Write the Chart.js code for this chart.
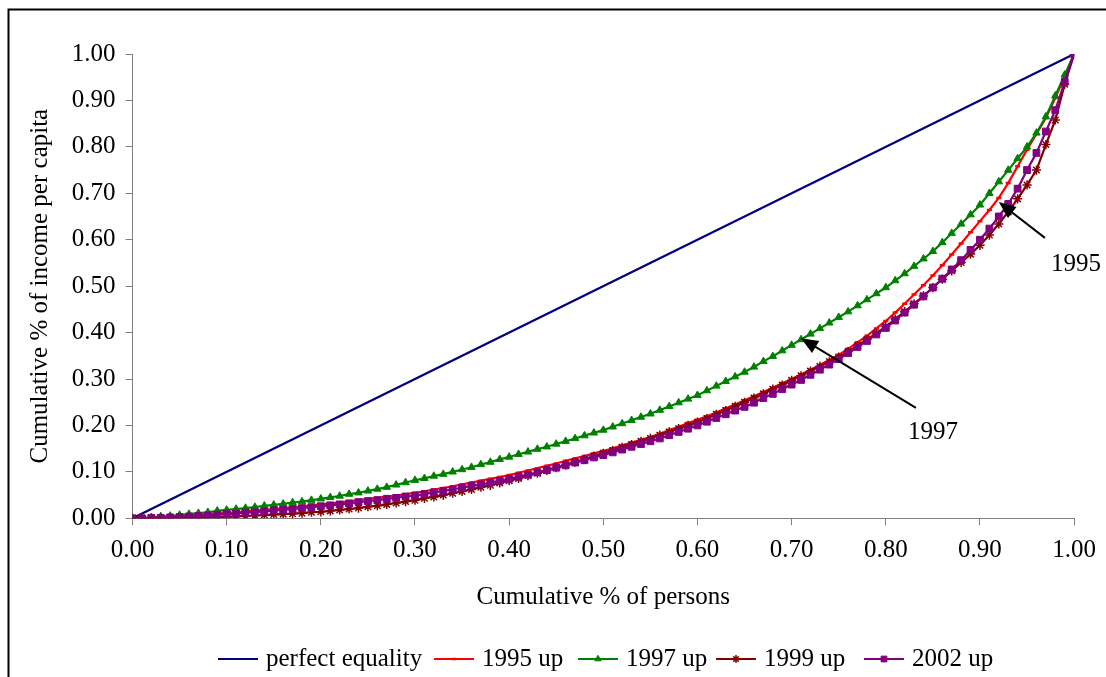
<!DOCTYPE html>
<html><head><meta charset="utf-8">
<script src="https://cdn.jsdelivr.net/npm/chart.js@4.4.1/dist/chart.umd.min.js"></script>
<style>html,body{margin:0;padding:0;background:#fff}canvas{display:block}</style>
</head><body>
<canvas id="c" width="1106" height="677"></canvas>
<script>
// Cumulative share of persons (x)
const persons = [0.00,0.01,0.02,0.03,0.04,0.05,0.06,0.07,0.08,0.09,
0.10,0.11,0.12,0.13,0.14,0.15,0.16,0.17,0.18,0.19,
0.20,0.21,0.22,0.23,0.24,0.25,0.26,0.27,0.28,0.29,
0.30,0.31,0.32,0.33,0.34,0.35,0.36,0.37,0.38,0.39,
0.40,0.41,0.42,0.43,0.44,0.45,0.46,0.47,0.48,0.49,
0.50,0.51,0.52,0.53,0.54,0.55,0.56,0.57,0.58,0.59,
0.60,0.61,0.62,0.63,0.64,0.65,0.66,0.67,0.68,0.69,
0.70,0.71,0.72,0.73,0.74,0.75,0.76,0.77,0.78,0.79,
0.80,0.81,0.82,0.83,0.84,0.85,0.86,0.87,0.88,0.89,
0.90,0.91,0.92,0.93,0.94,0.95,0.96,0.97,0.98,0.99,1.00];

const equalityX = [0.00, 1.00];
const equalityY = [0.00, 1.00];

const up1995 = [0,0.000,0.001,0.002,0.003,0.004,0.005,0.007,0.008,0.010,
0.012,0.013,0.015,0.017,0.018,0.020,0.022,0.024,0.026,0.028,
0.030,0.032,0.034,0.037,0.039,0.042,0.044,0.047,0.049,0.052,
0.055,0.058,0.062,0.065,0.069,0.073,0.077,0.081,0.085,0.089,
0.093,0.098,0.103,0.108,0.113,0.118,0.124,0.129,0.134,0.140,
0.145,0.151,0.157,0.163,0.169,0.175,0.182,0.190,0.197,0.205,
0.212,0.220,0.228,0.237,0.245,0.254,0.263,0.272,0.281,0.291,
0.300,0.310,0.320,0.330,0.341,0.352,0.365,0.379,0.393,0.409,
0.425,0.443,0.462,0.482,0.502,0.523,0.545,0.568,0.592,0.616,
0.640,0.664,0.690,0.722,0.758,0.794,0.828,0.862,0.905,0.952,1.000];

const up1997 = [0,0.001,0.002,0.004,0.005,0.007,0.009,0.011,0.013,0.016,
0.018,0.020,0.022,0.024,0.027,0.029,0.031,0.034,0.036,0.039,
0.042,0.045,0.048,0.052,0.055,0.059,0.063,0.067,0.072,0.077,
0.082,0.086,0.091,0.095,0.100,0.105,0.110,0.116,0.121,0.127,
0.132,0.138,0.143,0.149,0.154,0.160,0.166,0.172,0.178,0.184,
0.190,0.197,0.204,0.211,0.218,0.225,0.233,0.241,0.249,0.257,
0.265,0.275,0.285,0.295,0.305,0.315,0.326,0.338,0.349,0.361,
0.373,0.385,0.397,0.409,0.421,0.433,0.445,0.458,0.471,0.484,
0.497,0.512,0.527,0.543,0.559,0.575,0.594,0.614,0.634,0.654,
0.675,0.700,0.725,0.750,0.775,0.800,0.830,0.865,0.910,0.955,1.000];

const up1999 = [0,0.000,0.000,0.000,0.000,0.000,0.001,0.001,0.002,0.002,
0.003,0.004,0.005,0.006,0.007,0.008,0.009,0.010,0.011,0.013,
0.014,0.016,0.018,0.020,0.022,0.025,0.027,0.030,0.033,0.036,
0.039,0.043,0.046,0.050,0.054,0.058,0.062,0.067,0.071,0.076,
0.081,0.086,0.092,0.097,0.103,0.109,0.115,0.121,0.127,0.134,
0.140,0.146,0.153,0.159,0.166,0.172,0.179,0.186,0.193,0.200,
0.207,0.215,0.224,0.232,0.241,0.250,0.259,0.268,0.278,0.287,
0.297,0.307,0.317,0.327,0.337,0.347,0.359,0.372,0.385,0.399,
0.413,0.429,0.445,0.462,0.479,0.497,0.515,0.533,0.551,0.569,
0.588,0.610,0.634,0.660,0.688,0.718,0.750,0.805,0.858,0.935,1.000];

const up2002 = [0,0.000,0.001,0.001,0.002,0.003,0.004,0.005,0.006,0.008,
0.009,0.010,0.012,0.013,0.015,0.017,0.018,0.020,0.022,0.024,
0.026,0.028,0.030,0.032,0.035,0.037,0.039,0.042,0.044,0.047,
0.049,0.052,0.056,0.059,0.062,0.066,0.070,0.073,0.077,0.081,
0.085,0.090,0.094,0.099,0.104,0.109,0.114,0.120,0.125,0.131,
0.136,0.142,0.148,0.154,0.160,0.166,0.172,0.179,0.186,0.193,
0.200,0.208,0.216,0.224,0.232,0.240,0.249,0.259,0.268,0.278,
0.288,0.298,0.309,0.320,0.331,0.343,0.356,0.369,0.382,0.396,
0.410,0.426,0.443,0.460,0.478,0.497,0.516,0.536,0.556,0.578,
0.600,0.624,0.650,0.677,0.710,0.750,0.787,0.833,0.879,0.940,1.000];

const seriesNames = ['perfect equality','1995 up','1997 up','1999 up','2002 up'];
const tickLabelsFmt = 2;

const FONT = 'Liberation Serif, Times New Roman, serif';
const FS = 25;
const xy = (xs, ys) => ys.map((y, i) => ({x: xs[i], y: y}));

const datasets = [
  {label: seriesNames[0], data: xy(equalityX, equalityY), borderColor:'#000080', backgroundColor:'#000080',
   borderWidth:2.2, pointRadius:0, order:5},
  {label: seriesNames[1], data: xy(persons, up1995), borderColor:'#FF0000', backgroundColor:'#FF0000',
   borderWidth:2.2, pointStyle:'line', pointRadius:2.5, pointBorderWidth:2.5, order:4},
  {label: seriesNames[2], data: xy(persons, up1997), borderColor:'#008000', backgroundColor:'#008000',
   borderWidth:2.2, pointStyle:'triangle', pointRadius:4.3, pointBorderWidth:1, order:3},
  {label: seriesNames[3], data: xy(persons, up1999), borderColor:'#800000', backgroundColor:'#800000',
   borderWidth:2.2, pointStyle:'star', pointRadius:4.6, pointBorderWidth:1.5, order:2},
  {label: seriesNames[4], data: xy(persons, up2002), borderColor:'#800080', backgroundColor:'#800080',
   borderWidth:2.2, pointStyle:'rect', pointRadius:4.8, pointBorderWidth:1, order:1}
];

// annotations in data coordinates
const arrows = [
  {from:{x:0.969, y:0.604}, to:{x:0.920, y:0.681}, text:'1995', at:{x:1.002, y:0.546}},
  {from:{x:0.832, y:0.238}, to:{x:0.710, y:0.388}, text:'1997', at:{x:0.850, y:0.184}}
];

const decor = {
  id:'decor',
  beforeDraw(chart){
    const ctx = chart.ctx;
    ctx.save();
    ctx.fillStyle = '#fff';
    ctx.fillRect(0,0,chart.width,chart.height);
    ctx.restore();
  },
  afterDraw(chart){
    const ctx = chart.ctx, xs = chart.scales.x, ys = chart.scales.y;
    ctx.save();
    // outer frame
    ctx.strokeStyle = '#000'; ctx.lineWidth = 2;
    ctx.beginPath(); ctx.moveTo(8.5, chart.height+2); ctx.lineTo(8.5, 9.5); ctx.lineTo(chart.width+2, 9.5); ctx.stroke();
    // arrows
    arrows.forEach(a => {
      const x1 = xs.getPixelForValue(a.from.x), y1 = ys.getPixelForValue(a.from.y);
      const x2 = xs.getPixelForValue(a.to.x), y2 = ys.getPixelForValue(a.to.y);
      const ang = Math.atan2(y2 - y1, x2 - x1), L = 17, W = 7;
      const bx = x2 - Math.cos(ang)*L, by = y2 - Math.sin(ang)*L;
      ctx.strokeStyle = '#000'; ctx.fillStyle = '#000'; ctx.lineWidth = 2;
      ctx.beginPath(); ctx.moveTo(x1, y1); ctx.lineTo(bx + Math.cos(ang)*3, by + Math.sin(ang)*3); ctx.stroke();
      ctx.beginPath(); ctx.moveTo(x2, y2);
      ctx.lineTo(bx + Math.sin(ang)*W, by - Math.cos(ang)*W);
      ctx.lineTo(bx - Math.sin(ang)*W, by + Math.cos(ang)*W);
      ctx.closePath(); ctx.fill();
      ctx.font = FS + 'px ' + FONT; ctx.textAlign = 'center'; ctx.textBaseline = 'middle';
      ctx.fillText(a.text, xs.getPixelForValue(a.at.x), ys.getPixelForValue(a.at.y));
    });
    // legend
    const legendX = [218, 434, 578, 716, 864], ly = 659;
    chart.data.datasets.forEach((ds, i) => {
      const x0 = legendX[i];
      ctx.strokeStyle = ds.borderColor; ctx.lineWidth = 2;
      ctx.beginPath(); ctx.moveTo(x0, ly); ctx.lineTo(x0 + 40, ly); ctx.stroke();
      if (ds.pointRadius > 0) {
        ctx.fillStyle = ds.backgroundColor; ctx.strokeStyle = ds.borderColor;
        ctx.lineWidth = ds.pointBorderWidth;
        Chart.helpers.drawPoint(ctx, {pointStyle: ds.pointStyle, radius: ds.pointRadius * 0.85, rotation: 0, borderWidth: ds.pointBorderWidth}, x0 + 20, ly);
      }
      ctx.fillStyle = '#000'; ctx.font = FS + 'px ' + FONT; ctx.textAlign = 'left'; ctx.textBaseline = 'middle';
      ctx.fillText(ds.label, x0 + 48, ly);
    });
    ctx.restore();
  }
};

new Chart(document.getElementById('c'), {
  type: 'line',
  data: {datasets: datasets},
  options: {
    responsive: false, animation: false, devicePixelRatio: 1,
    layout: {padding: {left: 25.6, top: 54, right: 29.5, bottom: 64.6}},
    plugins: {legend: {display: false}, tooltip: {enabled: false}},
    elements: {line: {tension: 0}},
    scales: {
      x: {type: 'linear', min: 0, max: 1,
        ticks: {stepSize: 0.1, autoSkip: false, maxRotation: 0, padding: 10, color: '#000',
          font: {family: FONT, size: FS}, callback: v => Number(v).toFixed(tickLabelsFmt)},
        grid: {display: true, drawOnChartArea: false, drawTicks: true, tickLength: 7, tickColor: '#808080', lineWidth: 1},
        border: {display: true, color: '#808080', width: 1},
        title: {display: true, text: 'Cumulative % of persons', color: '#000', font: {family: FONT, size: FS}, padding: 0},
        afterFit(s) { s.height = 94.1; }
      },
      y: {type: 'linear', min: 0, max: 1,
        ticks: {stepSize: 0.1, autoSkip: false, padding: 10, color: '#000',
          font: {family: FONT, size: FS}, callback: v => Number(v).toFixed(tickLabelsFmt)},
        grid: {display: true, drawOnChartArea: false, drawTicks: true, tickLength: 7, tickColor: '#808080', lineWidth: 1},
        border: {display: true, color: '#808080', width: 1},
        title: {display: true, text: 'Cumulative % of income per capita', color: '#000', font: {family: FONT, size: FS}, padding: 0},
        afterFit(s) { s.width = 106.9; }
      }
    }
  },
  plugins: [decor]
});
</script>
</body></html>
